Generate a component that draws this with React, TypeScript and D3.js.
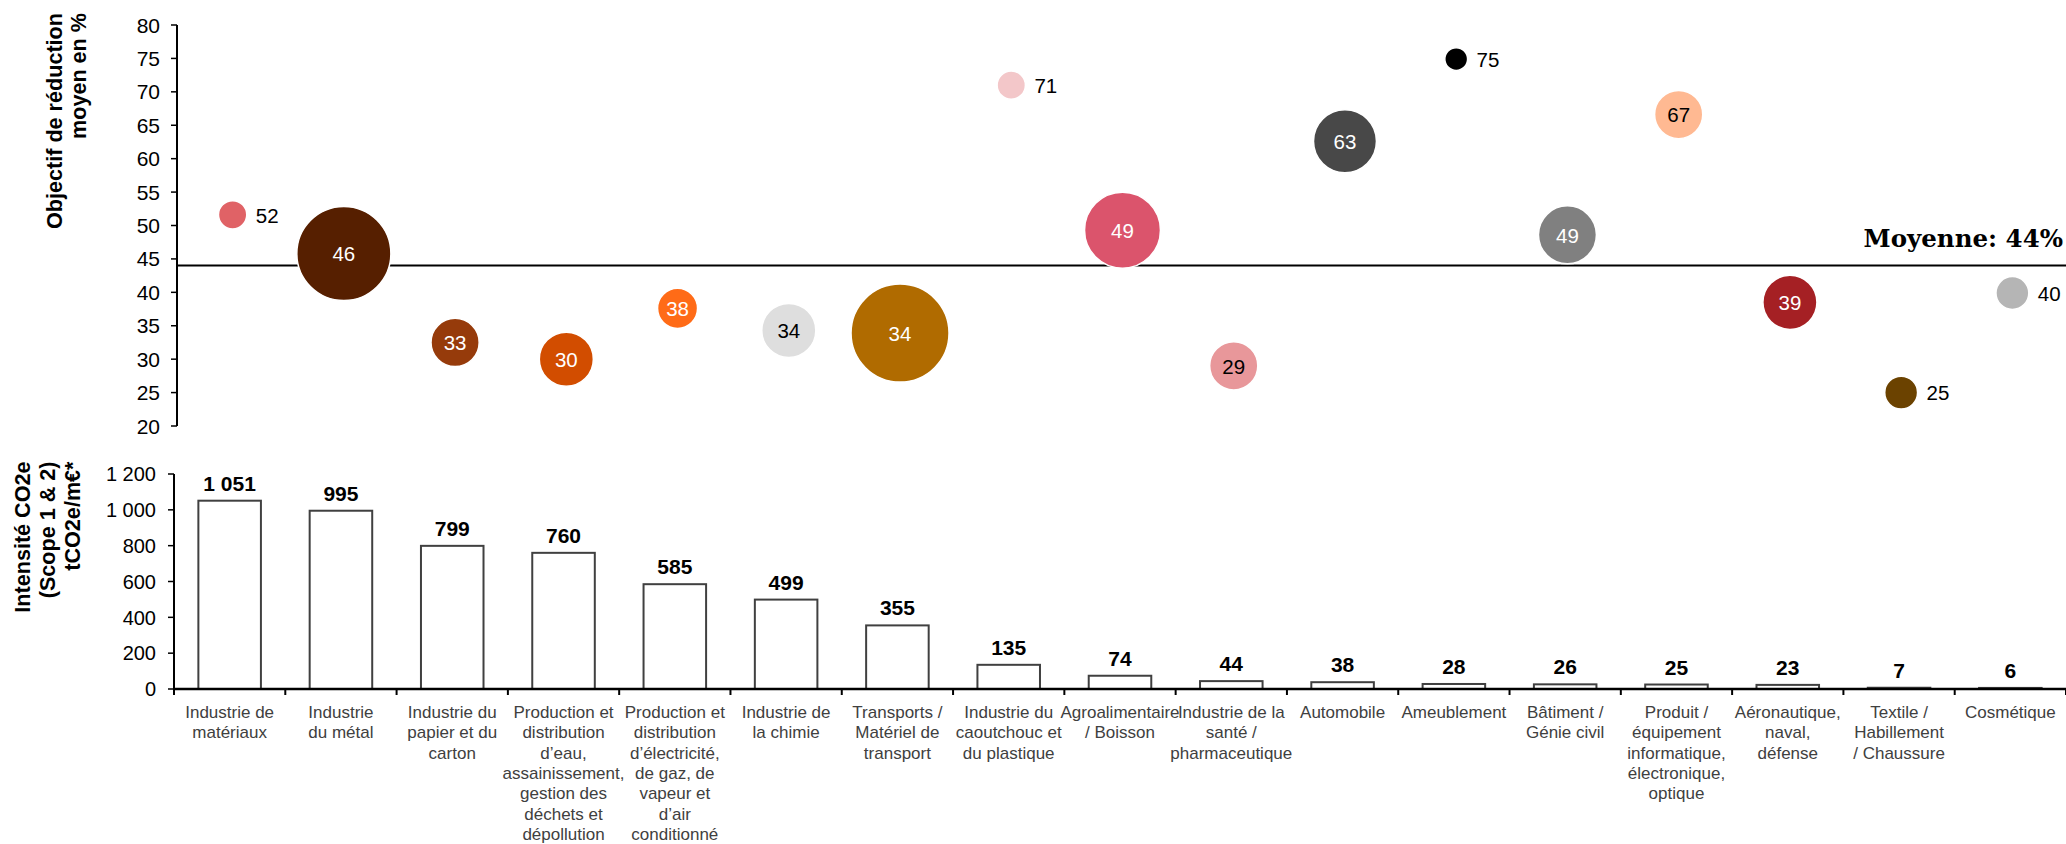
import React from "react";
import * as d3 from "d3";

// ---------- DATA ----------
const categories = [
  "Industrie de\nmatériaux",
  "Industrie\ndu métal",
  "Industrie du\npapier et du\ncarton",
  "Production et\ndistribution\nd’eau,\nassainissement,\ngestion des\ndéchets et\ndépollution",
  "Production et\ndistribution\nd’électricité,\nde gaz, de\nvapeur et\nd’air\nconditionné",
  "Industrie de\nla chimie",
  "Transports /\nMatériel de\ntransport",
  "Industrie du\ncaoutchouc et\ndu plastique",
  "Agroalimentaire\n/ Boisson",
  "Industrie de la\nsanté /\npharmaceutique",
  "Automobile",
  "Ameublement",
  "Bâtiment /\nGénie civil",
  "Produit /\néquipement\ninformatique,\nélectronique,\noptique",
  "Aéronautique,\nnaval,\ndéfense",
  "Textile /\nHabillement\n/ Chaussure",
  "Cosmétique",
];

// Objectif de réduction moyen (%)
const reductionTargets = [51.6, 45.8, 32.5, 30.0, 37.6, 34.3, 33.9, 71.0, 49.3, 29.0, 62.6, 74.9, 48.6, 66.6, 38.5, 25.0, 39.9];
// Bubble weights (area)
const bubbleWeights = [20, 221, 58, 73, 40, 73, 240, 20, 144, 58, 99, 13, 84, 58, 73, 27, 27];
// Intensité CO2e (tCO2e/m€)
const co2Intensity = [1051, 995, 799, 760, 585, 499, 355, 135, 74, 44, 38, 28, 26, 25, 23, 7, 6];

const upperTicks = [20, 25, 30, 35, 40, 45, 50, 55, 60, 65, 70, 75, 80];
const lowerTicks = [0, 200, 400, 600, 800, 1000, 1200];
const averageTarget = 44;
const averageLabel = "Moyenne: 44%";

const upperTitle = ["Objectif de réduction", "moyen en %"];
const lowerTitle = ["Intensité CO2e", "(Scope 1 & 2)", "tCO2e/m€*"];

const bubbleColors = [
  "#E06266", "#561F00", "#963B0B", "#D24D00", "#FF6B17", "#DEDEDE", "#B06B00", "#F3C7C9",
  "#DB546C", "#E8979A", "#484848", "#000000", "#808080", "#FFB992", "#A52024", "#6B4200", "#B5B5B5",
];

// ---------- CHART ----------
const W = 2066;
const H = 844;
const SANS = "'Liberation Sans', Arial, sans-serif";

const fr = d3.formatLocale({ decimal: ",", thousands: " ", grouping: [3], currency: ["", " €"] });
const fmt = fr.format(",d");

export default function App() {
  const idx = d3.range(categories.length);

  const xUp = d3.scaleBand<number>().domain(idx).range([177, 2068]);
  const yUp = d3.scaleLinear().domain([20, 80]).range([426, 25]);
  const rScale = d3.scaleSqrt().domain([0, 240]).range([0, 49]);

  const xLo = d3.scaleBand<number>().domain(idx).range([174, 2066]);
  const yLo = d3.scaleLinear().domain([0, 1200]).range([689, 474]);
  const barW = xLo.bandwidth() * 0.562;

  const upAxisX = xUp.range()[0];
  const loAxisX = xLo.range()[0];

  return (
    <svg
      width={W}
      height={H}
      viewBox={`0 0 ${W} ${H}`}
      style={{ position: "absolute", left: 0, top: 0, background: "#fff" }}
      fontFamily={SANS}
    >
      <rect x={0} y={0} width={W} height={H} fill="#fff" />

      {/* ===== Upper chart: bubbles ===== */}
      <text transform="rotate(-90)" fontWeight="bold" fontSize={21.6} textAnchor="end" fill="#000">
        {upperTitle.map((t, i) => (
          <tspan key={i} x={-13} y={61.5 + i * 24.5}>
            {t}
          </tspan>
        ))}
      </text>

      <line x1={upAxisX} x2={upAxisX} y1={yUp(80)} y2={yUp(20)} stroke="#000" strokeWidth={2} />
      {upperTicks.map((t) => (
        <g key={t}>
          <line x1={upAxisX - 6} x2={upAxisX} y1={yUp(t)} y2={yUp(t)} stroke="#000" strokeWidth={1.5} />
          <text x={160} y={yUp(t)} dy="0.36em" textAnchor="end" fontSize={21} fill="#000">
            {t}
          </text>
        </g>
      ))}

      {/* average line */}
      <line
        x1={upAxisX}
        x2={W}
        y1={yUp(averageTarget)}
        y2={yUp(averageTarget)}
        stroke="#000"
        strokeWidth={2}
      />
      <text
        x={2063}
        y={yUp(averageTarget) - 19}
        textAnchor="end"
        fontFamily="'DejaVu Serif', Georgia, serif"
        fontWeight="bold"
        fontSize={24.5}
        fill="#000"
      >
        {averageLabel}
      </text>

      {idx.map((i) => {
        const cx = (xUp(i) as number) + xUp.bandwidth() / 2;
        const cy = yUp(reductionTargets[i]);
        const r = rScale(bubbleWeights[i]);
        const fill = bubbleColors[i];
        const inside = r >= 18;
        const light = (d3.hsl(fill).l ?? 0) > 0.7;
        const label = String(Math.round(reductionTargets[i]));
        return (
          <g key={i}>
            <circle cx={cx} cy={cy} r={r} fill={fill} stroke="#fff" strokeWidth={1.5} />
            {inside ? (
              <text
                x={cx}
                y={cy}
                dy="0.38em"
                textAnchor="middle"
                fontSize={20.5}
                fill={light ? "#000" : "#fff"}
              >
                {label}
              </text>
            ) : (
              <text x={cx + r + 9} y={cy} dy="0.38em" textAnchor="start" fontSize={20.5} fill="#000">
                {label}
              </text>
            )}
          </g>
        );
      })}

      {/* ===== Lower chart: bars ===== */}
      <text transform="rotate(-90)" fontWeight="bold" fontSize={21.6} textAnchor="end" fill="#000">
        {lowerTitle.map((t, i) => (
          <tspan key={i} x={-461.5} y={29.5 + i * 25}>
            {t}
          </tspan>
        ))}
      </text>

      <line x1={loAxisX} x2={loAxisX} y1={yLo(1200)} y2={yLo(0)} stroke="#000" strokeWidth={2} />
      {lowerTicks.map((t) => (
        <g key={t}>
          <line x1={loAxisX - 6} x2={loAxisX} y1={yLo(t)} y2={yLo(t)} stroke="#000" strokeWidth={1.5} />
          <text x={156} y={yLo(t)} dy="0.36em" textAnchor="end" fontSize={20} fill="#000">
            {fmt(t)}
          </text>
        </g>
      ))}

      {idx.map((i) => {
        const cx = (xLo(i) as number) + xLo.bandwidth() / 2;
        const v = co2Intensity[i];
        const y = yLo(v);
        return (
          <g key={i}>
            <rect
              x={cx - barW / 2}
              y={y}
              width={barW}
              height={yLo(0) - y}
              fill="#fff"
              stroke="#404040"
              strokeWidth={2}
            />
            <text x={cx} y={y - 10} textAnchor="middle" fontWeight="bold" fontSize={21} fill="#000">
              {fmt(v)}
            </text>
            <text textAnchor="middle" fontSize={17} fill="#404040">
              {categories[i].split("\n").map((line, j) => (
                <tspan key={j} x={cx} y={718 + j * 20.35}>
                  {line}
                </tspan>
              ))}
            </text>
          </g>
        );
      })}

      {/* x axis */}
      <line x1={loAxisX} x2={W} y1={yLo(0)} y2={yLo(0)} stroke="#000" strokeWidth={2.5} />
      {d3.range(categories.length + 1).map((k) => {
        const x = loAxisX + k * xLo.step();
        return <line key={k} x1={x} x2={x} y1={yLo(0)} y2={yLo(0) + 6} stroke="#000" strokeWidth={2} />;
      })}
    </svg>
  );
}
